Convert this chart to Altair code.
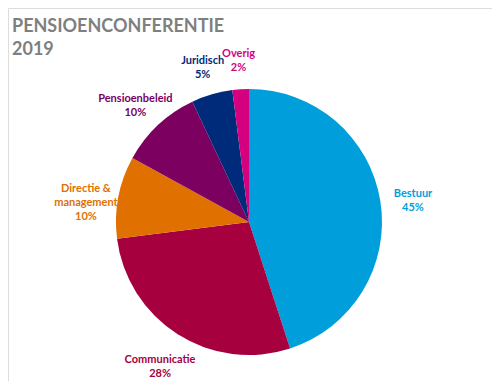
import altair as alt
import pandas as pd

categories = ["Bestuur", "Communicatie", "Directie &\nmanagement", "Pensioenbeleid", "Juridisch", "Overig"]
values = [45, 28, 10, 10, 5, 2]
colors = ["#009FDB", "#A6003F", "#E07000", "#7B005F", "#002A7A", "#D4007F"]
label_colors = ["#1BA3DC", "#A6003F", "#E07000", "#7B005F", "#1F3A8C", "#D4007F"]

df = pd.DataFrame({
    "cat": categories,
    "val": values,
    "idx": list(range(len(categories))),
})
df["label"] = df["cat"] + "\n" + df["val"].astype(str) + "%"

cx, cy, r = 241, 214, 133

base = alt.Chart(df).encode(
    theta=alt.Theta("val:Q", stack=True),
    order=alt.Order("idx:Q"),
)

pie = base.mark_arc(stroke=None).encode(
    color=alt.Color("cat:N", scale=alt.Scale(domain=categories, range=colors), legend=None),
    x=alt.value(cx), y=alt.value(cy),
    radius=alt.value(r),
)

labels = base.mark_text(
    font="Lato", fontWeight="bold", fontSize=11, lineBreak="\n", lineHeight=14,
    align="center", baseline="middle", dy=-2,
).encode(
    text="label:N",
    color=alt.Color("cat:N", scale=alt.Scale(domain=categories, range=label_colors), legend=None),
    x=alt.value(cx), y=alt.value(cy),
    radius=alt.value(166),
)

chart = (pie + labels).properties(
    width=484, height=373,
    padding=0,
    autosize=alt.AutoSizeParams(type="none"),
    title=alt.TitleParams(
        text=["PENSIOENCONFERENTIE", "2019"],
        anchor="start", frame="group", dx=4, offset=-51,
        font="Lato", fontSize=18, fontWeight="bold", color="#7F7F7F", lineHeight=23,
    ),
).configure_view(stroke="transparent", strokeWidth=0).configure(background="white")

chart.save("out.html", embed_options={"renderer": "svg", "actions": False})
